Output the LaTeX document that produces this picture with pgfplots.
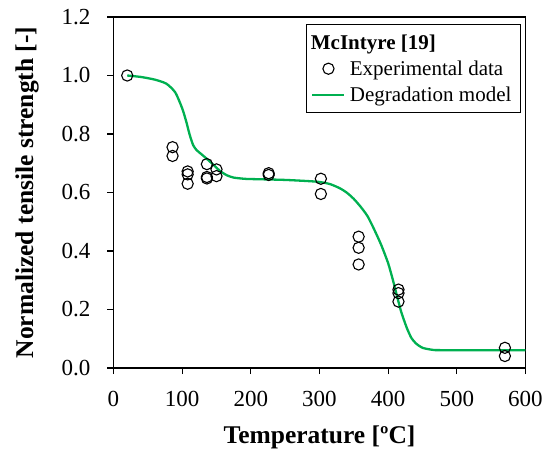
\documentclass[border=0pt]{standalone}
\usepackage{fontspec}
\setmainfont{Liberation Serif}
\usepackage{pgfplots}
\pgfplotsset{compat=1.18}
\definecolor{modelgreen}{RGB}{0,176,80}
\pgfplotsset{
  circleleg/.style={legend image code/.code={\draw[mark repeat=2,mark phase=2,##1] plot coordinates {(0pt,0pt) (16pt,0pt) (32pt,0pt)};}},
  lineleg/.style={legend image code/.code={\draw[##1, line width=1.8pt] (0pt,0pt) -- (32pt,0pt);}},
}
\begin{document}
\begin{tikzpicture}
\path[use as bounding box] (-113.5pt,-85pt) rectangle (432.5pt,368pt);
\begin{axis}[
  scale only axis,
  width=412pt, height=351pt,
  xmin=0, xmax=600, ymin=0, ymax=1.2,
  xtick={0,100,...,600},
  ytick={0,0.2,...,1.2},
  yticklabel style={/pgf/number format/fixed, /pgf/number format/fixed zerofill, /pgf/number format/precision=1},
  /pgf/number format/assume math mode=true,
  tick label style={font=\fontsize{23}{27}\selectfont, black, inner sep=0pt},
  xticklabel style={yshift=-17pt},
  yticklabel style={xshift=-17pt},
  tick align=outside,
  xtick pos=bottom, ytick pos=left,
  major tick length=6pt,
  tick style={black, line width=1.2pt},
  axis line style={black, line width=1.4pt},
  xlabel={\textbf{Temperature [ºC]}},
  ylabel={\textbf{Normalized tensile strength [-]}},
  label style={font=\fontsize{25.5}{30}\selectfont},
  xlabel style={at={(axis description cs:0.5,-0.1966)}, anchor=center},
  ylabel style={at={(axis description cs:-0.21,0.5)}, anchor=center},
  legend cell align=left,
  legend style={at={(1,1)}, anchor=north east, xshift=-4pt, yshift=-7pt,
    draw=black, line width=1.2pt, font=\fontsize{21}{25}\selectfont,
    inner xsep=5pt, inner ysep=5pt, row sep=0pt,
    nodes={inner xsep=4.5pt, inner ysep=5pt}},
]
\addlegendimage{empty legend}
\addlegendentry{\hspace{-39pt}\textbf{McIntyre [19]}}
\addplot[only marks, mark=o, mark size=5.6pt, black, line width=1.1pt, circleleg]
  coordinates {
  (20,1.000)
  (86,0.755) (86,0.725)
  (108,0.672) (108,0.662) (108,0.630)
  (136,0.697) (136,0.653) (136,0.648)
  (150,0.679) (150,0.656)
  (226,0.666) (226,0.660)
  (302,0.647) (302,0.595)
  (357,0.449) (357,0.411) (357,0.354)
  (415,0.268) (415,0.256) (415,0.227)
  (570,0.069) (570,0.041)
  };
\addlegendentry{Experimental data}
\addplot[modelgreen, line width=2.3pt, smooth, tension=0.4, lineleg]
  coordinates {
  (20,1.000) (40,0.995) (60,0.986) (77,0.972) (90,0.942) (100,0.888)
  (106,0.842) (111,0.797) (116,0.762) (121,0.745) (128,0.731) (135,0.717)
  (145,0.696) (155,0.674) (165,0.659) (175,0.651) (190,0.647) (200,0.646)
  (250,0.643) (296,0.637) (315,0.629) (330,0.614) (340,0.599) (350,0.578)
  (360,0.551) (370,0.519) (380,0.472) (390,0.420) (400,0.358) (407,0.300)
  (413,0.245) (419,0.192) (427,0.138) (434,0.102) (441,0.083) (450,0.069)
  (465,0.062) (480,0.061) (600,0.061)
  };
\addlegendentry{Degradation model}
\end{axis}
\end{tikzpicture}
\end{document}
